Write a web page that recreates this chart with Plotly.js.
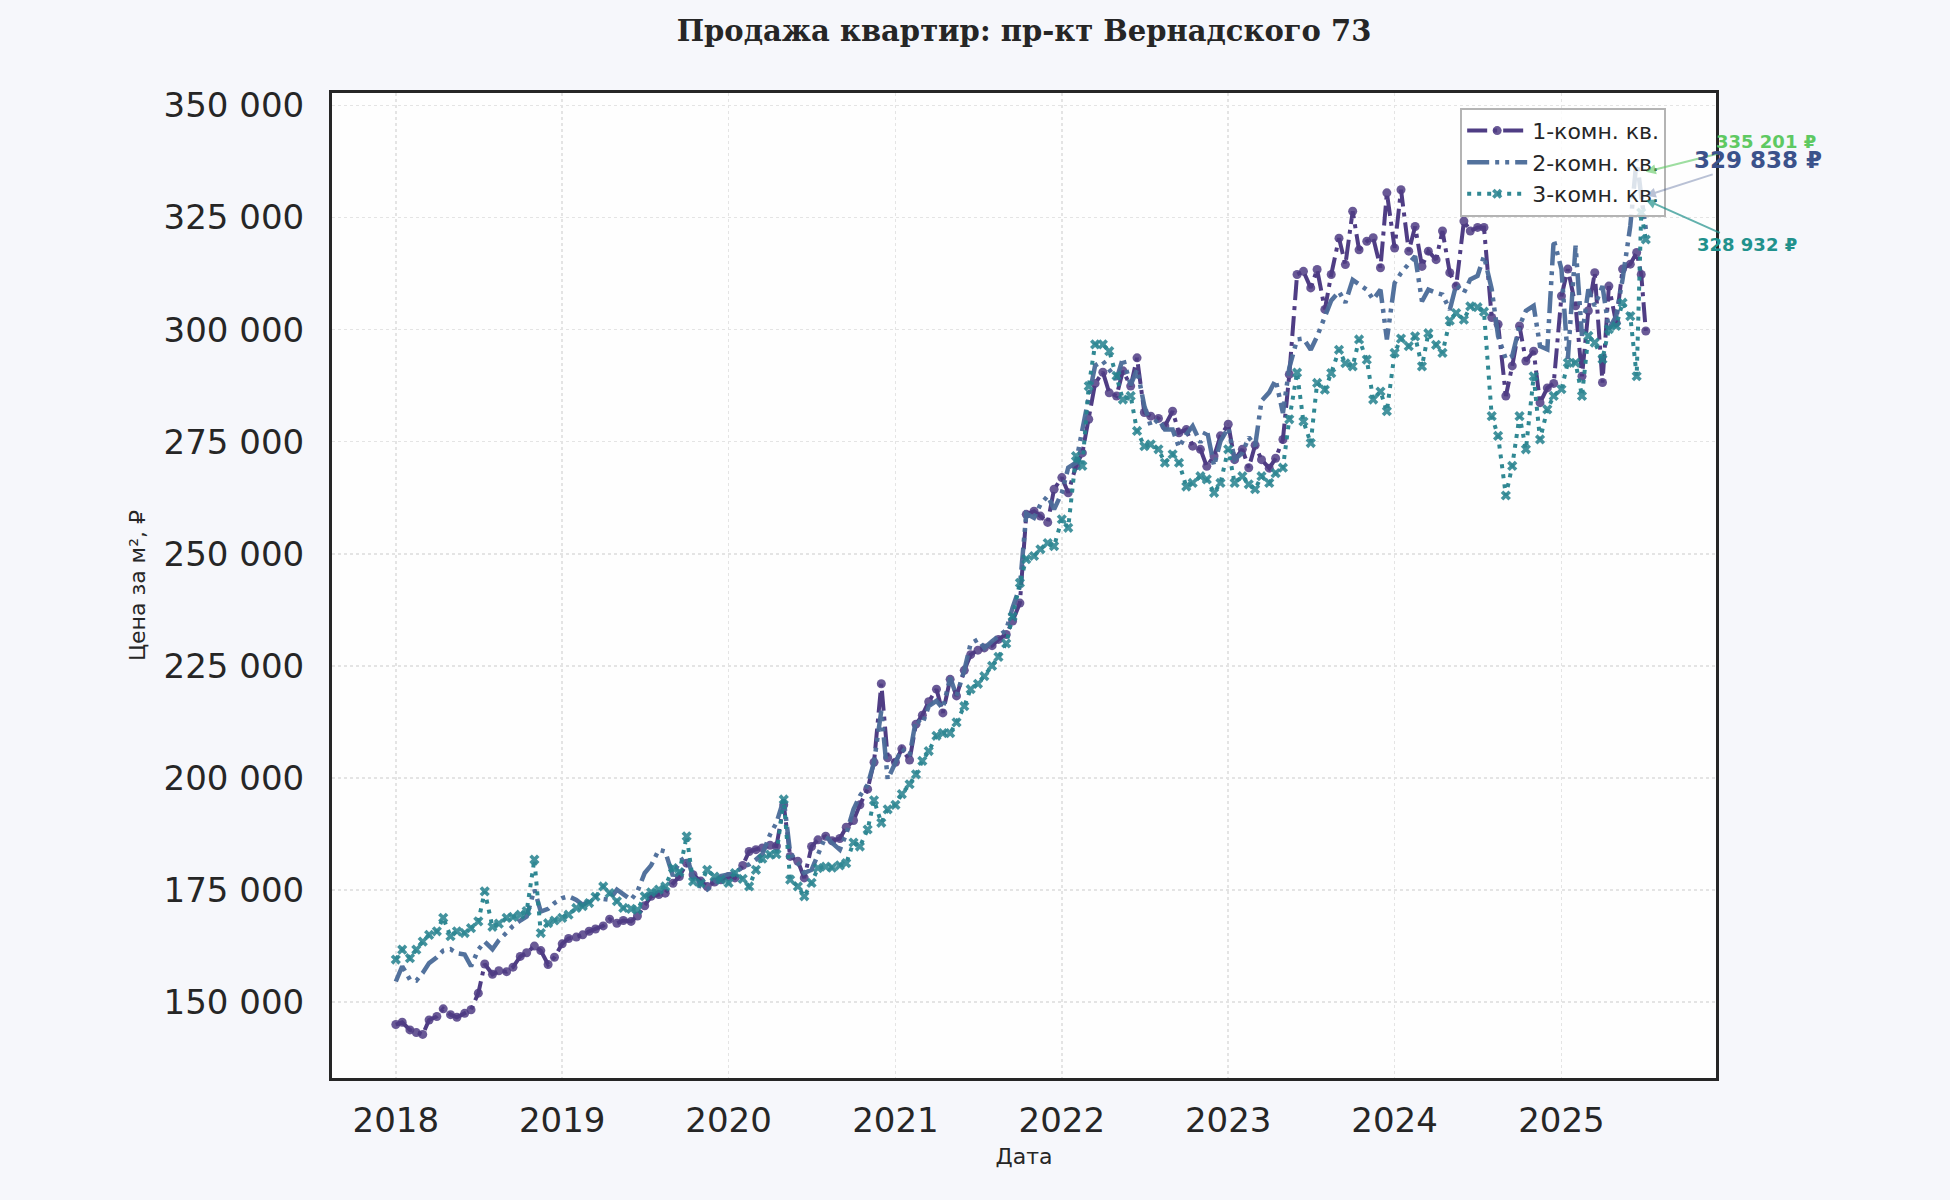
<!DOCTYPE html>
<html>
<head>
<meta charset="utf-8">
<script src="https://cdn.plot.ly/plotly-3.0.1.min.js"></script>
<style>
  html, body { margin: 0; padding: 0; background: #f6f7fb; }
  #chart { width: 1950px; height: 1200px; }
</style>
</head>
<body>
<div id="chart"></div>
<script>
// Продажа квартир, пр-кт Вернадского 73: цена за м2, тыс. руб (читается с графика)
const dates = [
  "2018-01-01","2018-01-15","2018-02-01","2018-02-15","2018-03-01","2018-03-15","2018-04-01","2018-04-15","2018-05-01","2018-05-15","2018-06-01","2018-06-15",
  "2018-07-01","2018-07-15","2018-08-01","2018-08-15","2018-09-01","2018-09-15","2018-10-01","2018-10-15","2018-11-01","2018-11-15","2018-12-01","2018-12-15",
  "2019-01-01","2019-01-15","2019-02-01","2019-02-15","2019-03-01","2019-03-15","2019-04-01","2019-04-15","2019-05-01","2019-05-15","2019-06-01","2019-06-15",
  "2019-07-01","2019-07-15","2019-08-01","2019-08-15","2019-09-01","2019-09-15","2019-10-01","2019-10-15","2019-11-01","2019-11-15","2019-12-01","2019-12-15",
  "2020-01-01","2020-01-15","2020-02-01","2020-02-15","2020-03-01","2020-03-15","2020-04-01","2020-04-15","2020-05-01","2020-05-15","2020-06-01","2020-06-15",
  "2020-07-01","2020-07-15","2020-08-01","2020-08-15","2020-09-01","2020-09-15","2020-10-01","2020-10-15","2020-11-01","2020-11-15","2020-12-01","2020-12-15",
  "2021-01-01","2021-01-15","2021-02-01","2021-02-15","2021-03-01","2021-03-15","2021-04-01","2021-04-15","2021-05-01","2021-05-15","2021-06-01","2021-06-15",
  "2021-07-01","2021-07-15","2021-08-01","2021-08-15","2021-09-01","2021-09-15","2021-10-01","2021-10-15","2021-11-01","2021-11-15","2021-12-01","2021-12-15",
  "2022-01-01","2022-01-15","2022-02-01","2022-02-15","2022-03-01","2022-03-15","2022-04-01","2022-04-15","2022-05-01","2022-05-15","2022-06-01","2022-06-15",
  "2022-07-01","2022-07-15","2022-08-01","2022-08-15","2022-09-01","2022-09-15","2022-10-01","2022-10-15","2022-11-01","2022-11-15","2022-12-01","2022-12-15",
  "2023-01-01","2023-01-15","2023-02-01","2023-02-15","2023-03-01","2023-03-15","2023-04-01","2023-04-15","2023-05-01","2023-05-15","2023-06-01","2023-06-15",
  "2023-07-01","2023-07-15","2023-08-01","2023-08-15","2023-09-01","2023-09-15","2023-10-01","2023-10-15","2023-11-01","2023-11-15","2023-12-01","2023-12-15",
  "2024-01-01","2024-01-15","2024-02-01","2024-02-15","2024-03-01","2024-03-15","2024-04-01","2024-04-15","2024-05-01","2024-05-15","2024-06-01","2024-06-15",
  "2024-07-01","2024-07-15","2024-08-01","2024-08-15","2024-09-01","2024-09-15","2024-10-01","2024-10-15","2024-11-01","2024-11-15","2024-12-01","2024-12-15",
  "2025-01-01","2025-01-15","2025-02-01","2025-02-15","2025-03-01","2025-03-15","2025-04-01","2025-04-15","2025-05-01","2025-05-15","2025-06-01","2025-06-15",
  "2025-06-25","2025-07-05"
];

// 1-комн. кв., тыс. руб/м2
const oneRoom = [
  145.0,145.5,143.8,143.2,142.8,146.0,146.8,148.5,147.2,146.6,147.5,148.3,152.0,158.5,156.2,157.0,156.8,157.8,160.2,161.0,162.5,161.5,158.4,160.0,
  163.0,164.2,164.5,165.0,165.8,166.3,167.0,168.5,167.6,168.2,168.0,169.2,171.5,173.6,174.0,174.3,176.5,178.0,181.0,178.4,177.0,175.8,176.8,177.3,
  178.0,177.7,180.5,183.6,184.0,184.4,185.0,184.8,194.0,182.5,181.4,177.7,184.7,186.2,187.0,186.0,186.5,189.0,190.5,194.0,197.5,203.5,221.0,204.5,
  203.5,206.5,204.0,212.0,214.0,217.0,219.8,214.5,222.0,218.3,224.0,227.5,228.5,229.0,229.5,230.9,232.0,235.0,239.0,258.8,259.5,258.4,257.0,264.4,
  267.0,263.6,269.6,272.5,280.0,288.0,290.5,285.9,285.2,290.8,287.4,293.7,281.5,280.7,280.2,278.5,281.8,277.0,277.7,274.0,273.3,269.5,271.8,276.3,
  278.9,271.0,273.3,269.2,274.2,271.0,269.1,271.3,275.5,290.0,312.3,313.0,309.3,313.4,304.5,312.3,320.4,314.5,326.4,317.8,319.7,320.5,313.8,330.5,
  318.2,331.2,317.5,323.0,314.1,317.5,315.6,322.0,312.7,309.7,324.2,322.0,322.8,322.8,302.7,301.2,285.2,291.9,300.8,293.0,295.2,283.7,287.0,288.0,
  307.5,313.5,305.3,289.6,304.2,312.7,288.2,309.7,301.5,313.5,314.6,317.2,312.3,299.7
];

// 2-комн. кв., тыс. руб/м2
const twoRoom = [
  154.6,158.0,155.0,154.8,156.5,158.7,160.0,161.5,161.8,160.9,160.6,158.0,161.7,163.5,161.8,163.8,165.5,167.0,168.2,169.1,175.1,170.2,170.8,172.1,
  173.2,173.6,172.8,171.7,172.5,173.6,173.0,172.8,175.1,174.0,172.8,174.7,178.8,180.5,184.0,183.6,178.1,181.4,182.5,178.0,175.8,175.1,176.5,178.1,
  178.5,178.8,180.2,180.7,181.8,183.0,187.4,190.0,195.2,183.3,181.0,178.8,179.5,183.0,187.0,185.5,184.0,187.5,193.0,196.0,198.5,203.5,215.0,199.7,
  203.5,206.5,205.0,213.0,212.0,216.0,217.2,215.5,222.4,218.3,224.0,230.0,230.9,229.0,230.5,231.6,233.0,238.0,242.7,259.0,258.0,261.0,262.9,259.9,
  263.6,269.2,270.3,277.7,285.2,292.0,293.0,291.1,288.9,293.7,287.6,291.1,283.0,278.5,280.0,277.7,277.7,273.7,276.6,278.5,274.8,277.7,269.6,275.1,
  278.1,271.0,272.5,276.0,274.0,284.1,286.0,288.8,281.4,291.5,297.8,298.0,295.5,298.5,303.0,306.5,308.5,306.0,311.1,310.0,308.9,306.7,308.9,297.8,
  310.4,312.6,314.9,316.4,306.3,308.9,308.2,307.8,304.4,310.0,308.2,311.2,312.0,316.4,309.0,298.5,293.4,294.1,300.8,304.2,305.3,296.3,295.6,320.1,
  313.5,293.4,318.7,298.6,309.0,305.3,309.7,300.1,303.0,311.2,323.1,338.0,329.8,322.4
];

// 3-комн. кв., тыс. руб/м2
const threeRoom = [
  159.5,161.7,159.8,161.7,163.5,165.0,165.8,168.8,164.7,165.8,165.4,166.5,168.0,174.7,166.8,167.5,168.8,169.0,169.5,170.3,181.8,165.4,167.6,168.2,
  168.8,169.5,171.0,171.4,172.1,173.5,175.8,174.3,172.5,171.0,170.8,170.6,173.6,174.5,175.1,175.8,179.9,179.0,187.0,176.9,176.5,179.5,178.0,177.3,
  176.6,178.8,177.5,175.8,179.5,182.0,182.9,183.0,195.2,177.3,175.8,173.6,176.6,179.9,180.2,180.0,180.5,181.0,185.6,184.7,188.5,195.0,190.0,193.0,
  194.0,196.4,198.6,200.8,203.8,206.0,209.4,210.0,210.0,212.4,216.0,219.8,221.0,222.7,225.0,227.0,230.0,236.0,243.5,248.8,249.5,251.0,252.4,251.7,
  257.7,255.8,271.8,269.6,287.4,296.7,296.7,295.2,289.7,284.4,285.2,277.4,274.0,274.4,273.3,270.3,272.2,270.3,265.0,265.8,267.3,266.6,263.6,265.8,
  273.3,265.8,267.3,265.5,264.4,267.3,265.8,268.0,269.2,280.0,290.4,279.5,274.7,288.1,286.6,290.3,295.5,292.5,291.8,297.8,293.3,284.4,286.2,281.8,
  294.8,298.0,296.3,298.5,291.8,299.2,296.6,294.8,302.0,303.7,302.2,305.2,305.0,304.0,280.7,276.3,263.0,269.6,280.7,273.3,289.6,275.5,282.2,285.2,
  286.7,292.6,292.6,285.2,298.6,297.1,293.4,300.1,300.8,306.0,303.0,289.6,326.1,320.1
];

const seriesNames = ["1-комн. кв.", "2-комн. кв.", "3-комн. кв."];

// подписи справа: значение на последнюю дату
const endLabels = ["335 201 ₽", "329 838 ₽", "328 932 ₽"];
const endValues = [335201, 329838, 328932];
const endDate = "2025-07-05";

const yTicks = [150000, 175000, 200000, 225000, 250000, 275000, 300000, 325000, 350000];

const toRub = arr => arr.map(v => v * 1000);

function lineTraces() {
  return [
    {
      x: dates, y: toRub(oneRoom),
      type: 'scatter', mode: 'lines+markers',
      name: seriesNames[0],
      line: { color: '#46337e', width: 4, dash: '20px,6px,4px,6px' },
      marker: { symbol: 'circle', size: 9, color: 'rgba(70,51,126,0.85)' },
      opacity: 0.95
    },
    {
      x: dates, y: toRub(twoRoom),
      type: 'scatter', mode: 'lines',
      name: seriesNames[1],
      line: { color: '#4a6a98', width: 4.5, dash: '22px,6px,4px,6px,4px,6px' },
      opacity: 0.95
    },
    {
      x: dates, y: toRub(threeRoom),
      type: 'scatter', mode: 'lines+markers',
      name: seriesNames[2],
      line: { color: '#26828e', width: 4, dash: '4px,6px' },
      marker: { symbol: 'x', size: 9, color: 'rgba(38,130,142,0.9)' },
      opacity: 0.95
    }
  ];
}

function endAnnotations() {
  const styles = [
    { color: '#5ec962', arrow: 'rgba(94,201,98,0.6)', size: 18, ax: 120, ay: -30 },
    { color: '#3b528b', arrow: 'rgba(59,82,139,0.35)', size: 23, ax: 112, ay: -36 },
    { color: '#21918c', arrow: 'rgba(33,145,140,0.7)', size: 18, ax: 101, ay: 45 }
  ];
  return endLabels.map((label, i) => ({
    x: endDate, y: endValues[i], xref: 'x', yref: 'y',
    text: '<b>' + label + '</b>',
    showarrow: true, arrowhead: 2, arrowsize: 1, arrowwidth: 2,
    arrowcolor: styles[i].arrow,
    ax: styles[i].ax, ay: styles[i].ay,
    font: { family: 'DejaVu Sans', size: styles[i].size, color: styles[i].color }
  }));
}

const layout = {
  width: 1950,
  height: 1200,
  paper_bgcolor: '#f6f7fb',
  plot_bgcolor: '#fefefe',
  separators: ', ',
  margin: { l: 332, r: 234, t: 93, b: 122 },
  font: { family: 'DejaVu Sans', color: '#262626' },
  title: {
    text: '<b>Продажа квартир: пр-кт Вернадского 73</b>',
    font: { family: 'DejaVu Serif', size: 29, color: '#262626' },
    xref: 'paper', x: 0.5, xanchor: 'center',
    yref: 'container', y: 0.974, yanchor: 'middle'
  },
  xaxis: {
    type: 'date',
    range: ['2017-08-14', '2025-12-06'],
    tick0: '2018-01-01', dtick: 'M12', tickformat: '%Y',
    ticks: '', ticklabelstandoff: 10,
    tickfont: { size: 34, color: '#262626' },
    showgrid: true, gridcolor: '#e4e4e4', gridwidth: 1.5, griddash: 'dot',
    showline: true, mirror: true, linecolor: '#262626', linewidth: 3,
    zeroline: false,
    title: { text: 'Дата', font: { size: 22, color: '#262626' }, standoff: 10 }
  },
  yaxis: {
    range: [133075, 352775],
    tickvals: yTicks, tickformat: ',d',
    ticks: '', ticklabelstandoff: 18,
    tickfont: { size: 34, color: '#262626' },
    showgrid: true, gridcolor: '#e4e4e4', gridwidth: 1.5, griddash: 'dot',
    showline: true, mirror: true, linecolor: '#262626', linewidth: 3,
    zeroline: false,
    title: { text: 'Цена за м², ₽', font: { size: 22, color: '#262626' }, standoff: 12 }
  },
  legend: {
    x: 0.964, xanchor: 'right', xref: 'paper',
    y: 0.985, yanchor: 'top', yref: 'paper',
    bgcolor: 'rgba(255,255,255,0.8)',
    bordercolor: '#b4b4b4', borderwidth: 2,
    font: { family: 'DejaVu Sans', size: 22, color: '#262626' },
    traceorder: 'normal',
    itemwidth: 60
  },
  annotations: endAnnotations(),
  showlegend: true
};

Plotly.newPlot('chart', lineTraces(), layout, { displayModeBar: false, staticPlot: true });
</script>
</body>
</html>
